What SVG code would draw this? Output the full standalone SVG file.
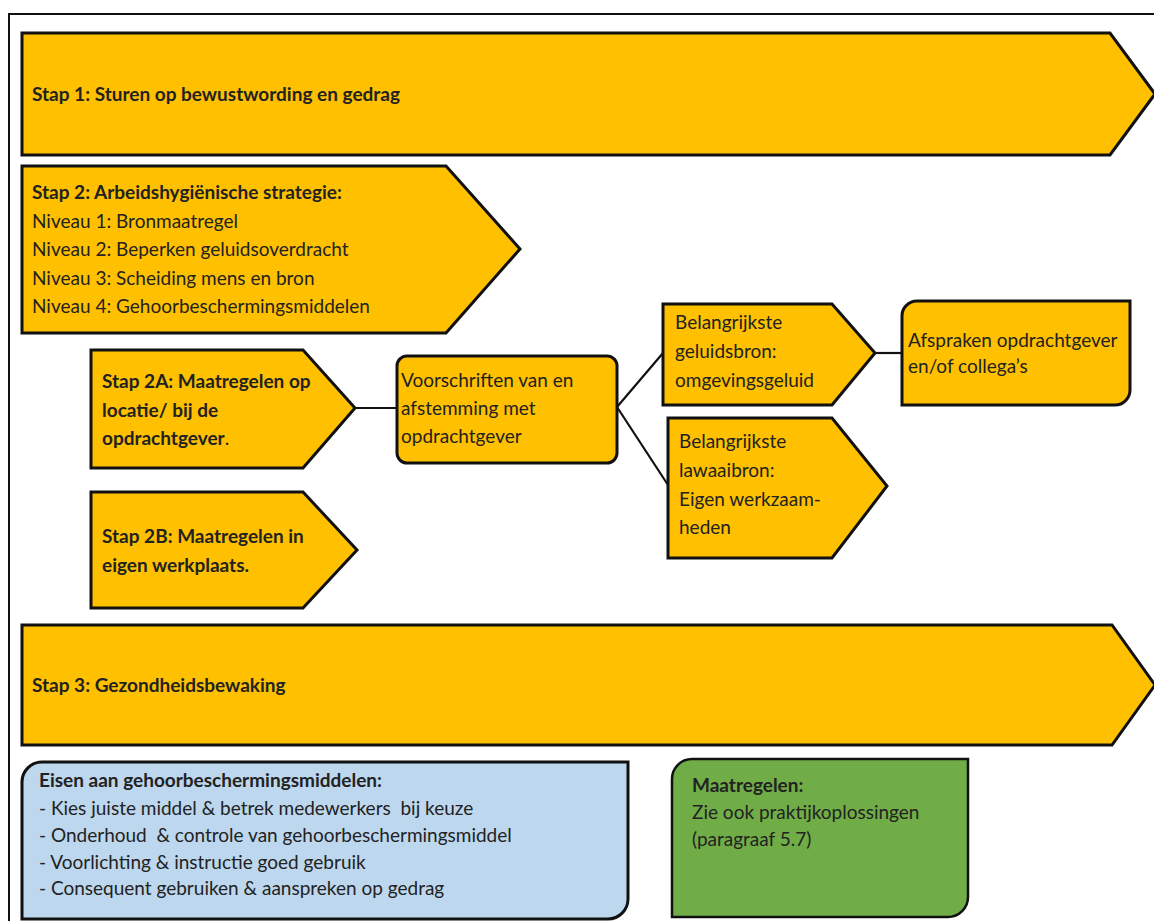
<svg xmlns="http://www.w3.org/2000/svg" width="1154" height="921" viewBox="0 0 1154 921">
<style>
.y{fill:#FFC000;stroke:#111;stroke-width:3;stroke-linejoin:miter}
.t{font-family:Lato,"Liberation Sans",sans-serif;font-size:19px;fill:#222}
.b{font-weight:bold}
.c{fill:none;stroke:#111;stroke-width:2.2}
</style>
<rect width="1154" height="921" fill="#fff"/>
<path d="M9,921 V14 H1154" fill="none" stroke="#111" stroke-width="2"/>
<g id="connectors">
<line class="c" x1="355" y1="408" x2="397" y2="408"/>
<line class="c" x1="617" y1="407" x2="663" y2="353"/>
<line class="c" x1="617" y1="407" x2="668" y2="485"/>
<line class="c" x1="875" y1="353" x2="902" y2="353" stroke-width="1.6"/>
</g>
<g id="stap1">
<polygon class="y" points="22,33 1110,33 1155,94 1110,155 22,155"/>
<text class="t b" x="32" y="101">Stap 1: Sturen op bewustwording en gedrag</text>
</g>
<g id="stap2">
<polygon class="y" points="22,166 446,166 520,249 446,333 22,333"/>
<text class="t" x="32" y="199"><tspan class="b">Stap 2: Arbeidshygiënische strategie:</tspan><tspan x="32" y="228">Niveau 1: Bronmaatregel</tspan><tspan x="32" y="256">Niveau 2: Beperken geluidsoverdracht</tspan><tspan x="32" y="285">Niveau 3: Scheiding mens en bron</tspan><tspan x="32" y="313">Niveau 4: Gehoorbeschermingsmiddelen</tspan></text>
</g>
<g id="stap2a">
<polygon class="y" points="91,350 303,350 355,408 303,468 91,468"/>
<text class="t b" x="102" y="388">Stap 2A: Maatregelen op<tspan x="102" y="417">locatie/ bij de</tspan><tspan x="102" y="445">opdrachtgever<tspan font-weight="normal">.</tspan></tspan></text>
</g>
<g id="stap2b">
<polygon class="y" points="91,492 303,492 357,550 303,608 91,608"/>
<text class="t b" x="102" y="543">Stap 2B: Maatregelen in<tspan x="102" y="572">eigen werkplaats.</tspan></text>
</g>
<g id="voorschriften">
<rect class="y" x="397" y="356" width="220" height="107" rx="10"/>
<text class="t" x="401" y="387">Voorschriften van en<tspan x="401" y="415">afstemming met</tspan><tspan x="401" y="443">opdrachtgever</tspan></text>
</g>
<g id="geluidsbron">
<polygon class="y" points="663,304 832,304 875,353 832,405 663,405"/>
<text class="t" x="675" y="329">Belangrijkste<tspan x="675" y="358">geluidsbron:</tspan><tspan x="675" y="387">omgevingsgeluid</tspan></text>
</g>
<g id="lawaaibron">
<polygon class="y" points="668,418 832,418 887,486 832,558 668,558"/>
<text class="t" x="679" y="448">Belangrijkste<tspan x="679" y="477">lawaaibron:</tspan><tspan x="679" y="506">Eigen werkzaam-</tspan><tspan x="679" y="534">heden</tspan></text>
</g>
<g id="afspraken">
<path class="y" stroke-width="2.2" d="M902,316 A15,15 0 0 1 917,301 H1130 V390 A15,15 0 0 1 1115,405 H902 Z"/>
<text class="t" x="908" y="347">Afspraken opdrachtgever<tspan x="908" y="373">en/of collega’s</tspan></text>
</g>
<g id="stap3">
<polygon class="y" points="22,625 1112,625 1155,685 1112,745 22,745"/>
<text class="t b" x="32" y="692">Stap 3: Gezondheidsbewaking</text>
</g>
<g id="eisen">
<path d="M22,782 A20,20 0 0 1 42,762 H628 V899 A20,20 0 0 1 608,919 H22 Z" fill="#BDD7EE" stroke="#111" stroke-width="3"/>
<text class="t" x="39" y="787" xml:space="preserve"><tspan class="b">Eisen aan gehoorbeschermingsmiddelen:</tspan><tspan x="39" y="815">- Kies juiste middel &amp; betrek medewerkers  bij keuze</tspan><tspan x="39" y="842">- Onderhoud  &amp; controle van gehoorbeschermingsmiddel</tspan><tspan x="39" y="869">- Voorlichting &amp; instructie goed gebruik</tspan><tspan x="39" y="895">- Consequent gebruiken &amp; aanspreken op gedrag</tspan></text>
</g>
<g id="maatregelen">
<path d="M672,779 A20,20 0 0 1 692,759 H968 V897 A20,20 0 0 1 948,917 H672 Z" fill="#70AD47" stroke="#111" stroke-width="2.5"/>
<text class="t" x="692" y="792"><tspan class="b">Maatregelen:</tspan><tspan x="692" y="819">Zie ook praktijkoplossingen</tspan><tspan x="692" y="846">(paragraaf 5.7)</tspan></text>
</g>
</svg>
